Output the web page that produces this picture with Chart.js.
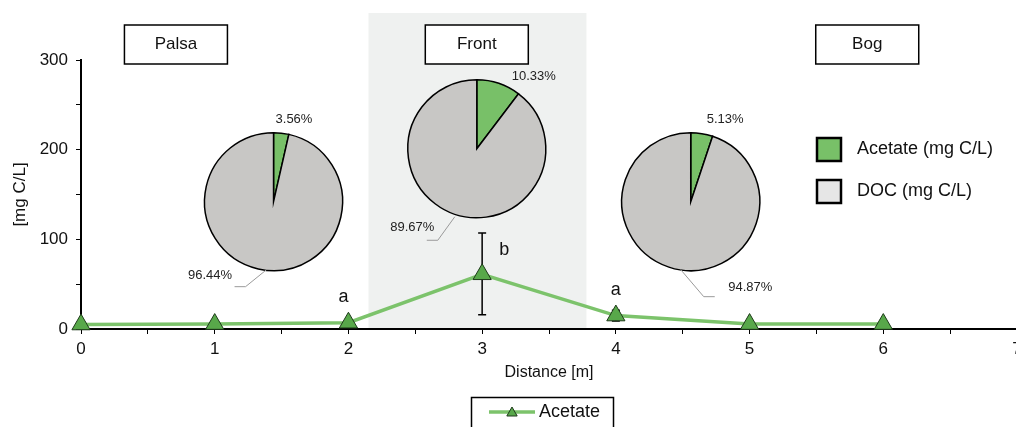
<!DOCTYPE html>
<html>
<head>
<meta charset="utf-8">
<script src="https://cdn.jsdelivr.net/npm/chart.js@4.4.1/dist/chart.umd.min.js"></script>
<style>
html, body { margin: 0; padding: 0; background: #fff; overflow: hidden; }
#wrap { width: 1040px; height: 427px; }
</style>
</head>
<body>
<div id="wrap"><canvas id="chart" width="1040" height="427"></canvas></div>
<script>
// line data
const distances = [0, 1, 2, 3, 4, 5, 6];
const acetate = [5, 5.5, 7, 61, 15, 5.5, 5.5];
const errLow = [null, null, null, 16, 9, null, null];
const errHigh = [null, null, null, 107, 21, null, null];
const letters = [null, null, 'a', 'b', 'a', null, null];

// pie data
const sites = ['Palsa', 'Front', 'Bog'];
const acetateShare = [3.56, 10.33, 5.13];
const docShare = [96.44, 89.67, 94.87];
const pieLegend = ['Acetate (mg C/L)', 'DOC (mg C/L)'];

// where things sit (not data)
const layout = {
    shadeFrom: 2.15, shadeTo: 3.78, shadeTop: 13,
    boxX: [0.71, 2.96, 5.88], boxW: 103, boxTop: 25, boxH: 39,
    pieX: [1.44, 2.96, 4.56], pieY: [142, 201, 142], pieR: 69,
    acLabel: [[2, -82, 'left'], [35, -72.5, 'left'], [16, -82.5, 'left']],
    docLabel: [[-41.5, 73.5, 'right'], [-42.5, 78.5, 'right'], [37.5, 85.5, 'left']],
    leader: [
        [[-7, 68], [-28, 85], [-39, 85]],
        [[-22, 68], [-39, 91.5], [-50, 91.5]],
        [[-10, 68], [13, 95], [24, 95]]
    ],
    letterOff: [null, null, [-5, -26], [22, -24], [0, -26], null, null]
};

const FONT = '"Liberation Sans", Arial, Helvetica, sans-serif';
const GREEN = '#78c068';
const LINE_GREEN = '#7cc36b';
const MARK_GREEN = '#58a84a';
const PIE_GRAY = '#c8c7c5';
const LEG_GRAY = '#e6e6e6';

function drawPie(ctx, cx, cy, r, parts, colors) {
    const total = parts.reduce((a, b) => a + b, 0);
    let start = -Math.PI / 2;
    parts.forEach((p, i) => {
        const end = start + p / total * Math.PI * 2;
        ctx.beginPath();
        ctx.moveTo(cx, cy);
        ctx.arc(cx, cy, r, start, end);
        ctx.closePath();
        ctx.fillStyle = colors[i];
        ctx.fill();
        ctx.lineWidth = 1.5;
        ctx.strokeStyle = '#000';
        ctx.stroke();
        start = end;
    });
}

function triangle(ctx, x, y, r) {
    ctx.beginPath();
    for (let k = 0; k < 3; k++) {
        const a = k * 2 * Math.PI / 3;
        const px = x + Math.sin(a) * r, py = y - Math.cos(a) * r;
        if (k === 0) ctx.moveTo(px, py); else ctx.lineTo(px, py);
    }
    ctx.closePath();
    ctx.fillStyle = MARK_GREEN;
    ctx.fill();
    ctx.lineWidth = 1;
    ctx.strokeStyle = '#1e3a1a';
    ctx.stroke();
}

const extras = {
    id: 'extras',
    beforeDatasetsDraw(chart) {
        const ctx = chart.ctx;
        const { x, y } = chart.scales;
        const area = chart.chartArea;
        ctx.save();
        // Front zone shading
        const x0 = x.getPixelForValue(layout.shadeFrom);
        const x1 = x.getPixelForValue(layout.shadeTo);
        ctx.fillStyle = '#eff1f0';
        ctx.fillRect(x0, layout.shadeTop, x1 - x0, area.bottom - layout.shadeTop - 1);
        // error bars
        ctx.strokeStyle = '#000';
        ctx.lineWidth = 1.5;
        distances.forEach((d, i) => {
            if (errLow[i] == null) return;
            const px = x.getPixelForValue(d);
            const lo = y.getPixelForValue(errLow[i]);
            const hi = y.getPixelForValue(errHigh[i]);
            ctx.beginPath();
            ctx.moveTo(px, lo); ctx.lineTo(px, hi);
            ctx.moveTo(px - 4, lo); ctx.lineTo(px + 4, lo);
            ctx.moveTo(px - 4, hi); ctx.lineTo(px + 4, hi);
            ctx.stroke();
        });
        ctx.restore();
    },
    afterDatasetsDraw(chart) {
        const ctx = chart.ctx;
        const { x, y } = chart.scales;
        ctx.save();
        ctx.textBaseline = 'middle';

        // site boxes
        sites.forEach((s, i) => {
            const cx = x.getPixelForValue(layout.boxX[i]);
            ctx.fillStyle = '#fff';
            ctx.fillRect(cx - layout.boxW / 2, layout.boxTop, layout.boxW, layout.boxH);
            ctx.lineWidth = 1.5;
            ctx.strokeStyle = '#000';
            ctx.strokeRect(cx - layout.boxW / 2, layout.boxTop, layout.boxW, layout.boxH);
            ctx.fillStyle = '#111';
            ctx.font = '17px ' + FONT;
            ctx.textAlign = 'center';
            ctx.fillText(s, cx, layout.boxTop + layout.boxH / 2);
        });

        // pies
        sites.forEach((s, i) => {
            const cx = x.getPixelForValue(layout.pieX[i]);
            const cy = y.getPixelForValue(layout.pieY[i]);
            drawPie(ctx, cx, cy, layout.pieR, [acetateShare[i], docShare[i]], [GREEN, PIE_GRAY]);
            // leader line
            const L = layout.leader[i];
            ctx.beginPath();
            ctx.moveTo(cx + L[0][0], cy + L[0][1]);
            ctx.lineTo(cx + L[1][0], cy + L[1][1]);
            ctx.lineTo(cx + L[2][0], cy + L[2][1]);
            ctx.strokeStyle = '#9a9a9a';
            ctx.lineWidth = 1;
            ctx.stroke();
            // labels
            ctx.fillStyle = '#222';
            ctx.font = '13px ' + FONT;
            const a = layout.acLabel[i], d = layout.docLabel[i];
            ctx.textAlign = a[2];
            ctx.fillText(acetateShare[i].toFixed(2) + '%', cx + a[0], cy + a[1]);
            ctx.textAlign = d[2];
            ctx.fillText(docShare[i].toFixed(2) + '%', cx + d[0], cy + d[1]);
        });

        // significance letters
        ctx.font = '18px ' + FONT;
        ctx.fillStyle = '#111';
        ctx.textAlign = 'center';
        distances.forEach((d, i) => {
            if (!letters[i]) return;
            const o = layout.letterOff[i];
            ctx.fillText(letters[i], x.getPixelForValue(d) + o[0], y.getPixelForValue(acetate[i]) + o[1]);
        });

        // pie legend (right)
        const legFill = [GREEN, LEG_GRAY];
        pieLegend.forEach((t, i) => {
            const top = 138 + i * 42;
            ctx.fillStyle = legFill[i];
            ctx.fillRect(817, top, 24, 23);
            ctx.lineWidth = 2.5;
            ctx.strokeStyle = '#000';
            ctx.strokeRect(817, top, 24, 23);
            ctx.fillStyle = '#111';
            ctx.font = '18px ' + FONT;
            ctx.textAlign = 'left';
            ctx.fillText(t, 857, top + 11.5);
        });

        // line legend (bottom)
        ctx.lineWidth = 1.5;
        ctx.strokeStyle = '#000';
        ctx.strokeRect(471.5, 397.5, 142, 40);
        ctx.beginPath();
        ctx.moveTo(489, 412); ctx.lineTo(535, 412);
        ctx.strokeStyle = LINE_GREEN;
        ctx.lineWidth = 3.5;
        ctx.stroke();
        triangle(ctx, 512, 413, 6);
        ctx.fillStyle = '#111';
        ctx.font = '18px ' + FONT;
        ctx.textAlign = 'left';
        ctx.fillText(chart.data.datasets[0].label, 539, 412);
        ctx.restore();
    }
};

new Chart(document.getElementById('chart'), {
    type: 'line',
    data: {
        datasets: [{
            label: 'Acetate',
            data: distances.map((d, i) => ({ x: d, y: acetate[i] })),
            borderColor: LINE_GREEN,
            borderWidth: 3.5,
            pointStyle: 'triangle',
            pointRadius: 10.5,
            pointBackgroundColor: MARK_GREEN,
            pointBorderColor: '#1e3a1a',
            pointBorderWidth: 1,
            tension: 0,
            clip: false
        }]
    },
    options: {
        responsive: false,
        animation: false,
        layout: { padding: { top: 60, right: 23, left: 0, bottom: 0 } },
        plugins: { legend: { display: false }, tooltip: { enabled: false } },
        scales: {
            x: {
                type: 'linear', min: 0, max: 7,
                afterFit(s) { s.height = 98; },
                ticks: {
                    stepSize: 0.5, autoSkip: false, maxRotation: 0,
                    color: '#111', font: { size: 17, family: FONT }, padding: 5,
                    callback: v => Number.isInteger(v) ? v : ''
                },
                grid: { drawOnChartArea: false, tickLength: 5, color: '#000', lineWidth: 1 },
                border: { color: '#000', width: 2 },
                title: {
                    display: true, text: 'Distance [m]', color: '#111',
                    font: { size: 16, family: FONT }, padding: { top: 0, bottom: 45 }
                }
            },
            y: {
                min: 0, max: 300,
                afterFit(s) { s.width = 81; },
                ticks: {
                    stepSize: 50, color: '#111', font: { size: 17, family: FONT }, padding: 8,
                    callback: v => v % 100 === 0 ? v : ''
                },
                grid: { drawOnChartArea: false, tickLength: 5, color: '#000', lineWidth: 1 },
                border: { color: '#000', width: 2 },
                title: {
                    display: true, text: '[mg C/L]', color: '#111',
                    font: { size: 17, family: FONT }, padding: { top: 10, bottom: 0 }
                }
            }
        }
    },
    plugins: [extras]
});
</script>
</body>
</html>
